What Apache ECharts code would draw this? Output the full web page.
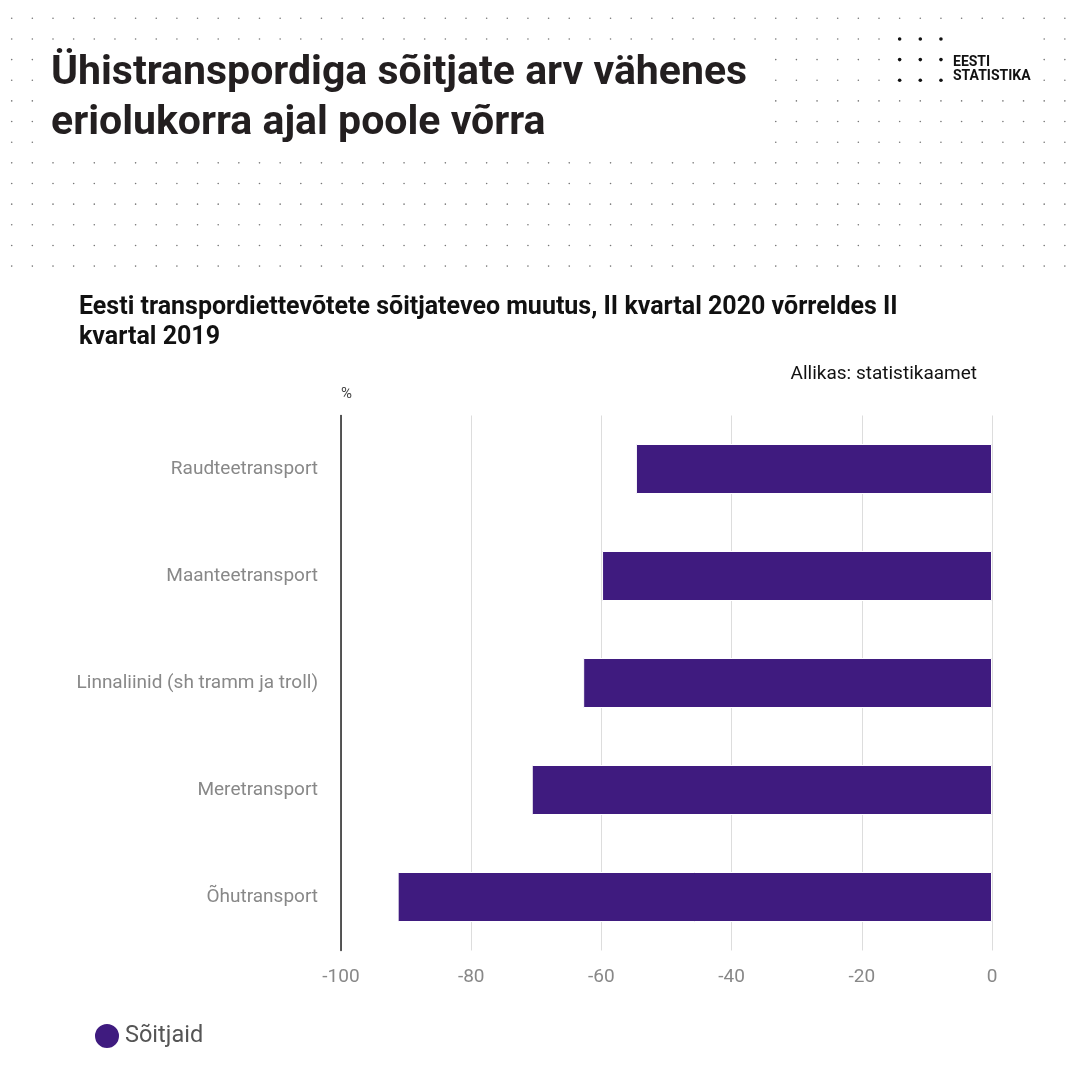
<!DOCTYPE html>
<html>
<head>
<meta charset="utf-8">
<title>Ühistranspordiga sõitjate arv</title>
<script src="https://cdn.jsdelivr.net/npm/echarts@6/dist/echarts.min.js"></script>
<style>
  html, body { margin: 0; padding: 0; background: #fff; }
  #chart { width: 1080px; height: 1080px; }
</style>
</head>
<body>
<div id="chart"></div>
<script>
// andmed
var categories = [
  'Raudteetransport',
  'Maanteetransport',
  'Linnaliinid (sh tramm ja troll)',
  'Meretransport',
  'Õhutransport'
];
var soitjaid = [-54.7, -59.9, -62.8, -70.7, -91.3];
var seriesName = 'Sõitjaid';

var chart = echarts.init(document.getElementById('chart'));

// taustal olev punktivõrk (dekoratsioon)
var dots = [];
var step = 20.65;
for (var row = 0; row < 13; row++) {
  for (var col = 0; col < 52; col++) {
    var x = 11.7 + col * step;
    var y = 18.3 + row * step;
    // pealkirja ja logo tekstide alla punkte ei pane
    if (x > 40 && x < 765 && y > 45 && y < 155) continue;
    if (x > 948 && x < 1040 && y > 30 && y < 90) continue;
    var logoDot = col >= 43 && col <= 45 && row >= 1 && row <= 3;
    dots.push({
      type: 'circle',
      silent: true,
      shape: { cx: x, cy: y, r: logoDot ? 1.8 : 0.8 },
      style: { fill: logoDot ? '#111' : '#777' }
    });
  }
}

var option = {
  backgroundColor: '#fff',
  textStyle: { fontFamily: 'Roboto' },
  graphic: dots,
  title: [
    {
      text: 'Ühistranspordiga sõitjate arv vähenes\neriolukorra ajal poole võrra',
      left: 51,
      top: 49,
      padding: 0,
      textStyle: { fontSize: 41, fontWeight: 'bold', lineHeight: 50, color: '#231f20', fontFamily: 'Roboto' }
    },
    {
      text: 'EESTI\nSTATISTIKA',
      left: 953,
      top: 55,
      padding: 0,
      textStyle: { fontSize: 14, fontWeight: 'bold', lineHeight: 14, color: '#111', fontFamily: 'Roboto' }
    },
    {
      text: 'Eesti transpordiettevõtete sõitjateveo muutus, II kvartal 2020 võrreldes II\nkvartal 2019',
      left: 79,
      top: 293,
      padding: 0,
      textStyle: { fontSize: 25, fontWeight: 'bold', lineHeight: 30, color: '#111', fontFamily: 'Roboto' }
    },
    {
      text: 'Allikas: statistikaamet',
      right: 103,
      top: 365,
      padding: 0,
      textStyle: { fontSize: 19, fontWeight: 'normal', color: '#111', fontFamily: 'Roboto' }
    },
    {
      text: '%',
      left: 341,
      top: 387,
      padding: 0,
      textStyle: { fontSize: 15, fontWeight: 'normal', color: '#444', fontFamily: 'Roboto' }
    }
  ],
  legend: {
    left: 88,
    top: 1017,
    icon: 'circle',
    itemWidth: 26,
    itemHeight: 26,
    itemGap: 9,
    textStyle: { fontSize: 23.5, color: '#555', fontFamily: 'Roboto' },
    data: [seriesName]
  },
  grid: {
    left: 341,
    right: 88,
    top: 415.5,
    bottom: 129.5,
    containLabel: false
  },
  xAxis: {
    type: 'value',
    min: -100,
    max: 0,
    interval: 20,
    axisLine: { show: false },
    axisTick: { show: false },
    axisLabel: { color: '#888', fontSize: 19, margin: 17, fontFamily: 'Roboto' },
    splitLine: { show: true, lineStyle: { color: '#ddd', width: 1 } }
  },
  yAxis: {
    type: 'category',
    inverse: true,
    data: categories,
    axisLine: { show: true, onZero: false, lineStyle: { color: '#222', width: 1.5 } },
    axisTick: { show: false },
    axisLabel: { color: '#888', fontSize: 19, margin: 23, fontFamily: 'Roboto' }
  },
  series: [
    {
      name: seriesName,
      type: 'bar',
      data: soitjaid,
      barWidth: 50,
      itemStyle: { color: '#3f1b7f', borderColor: '#fff', borderWidth: 1 },
      emphasis: { disabled: true }
    }
  ],
  animation: false
};

chart.setOption(option);
</script>
</body>
</html>
